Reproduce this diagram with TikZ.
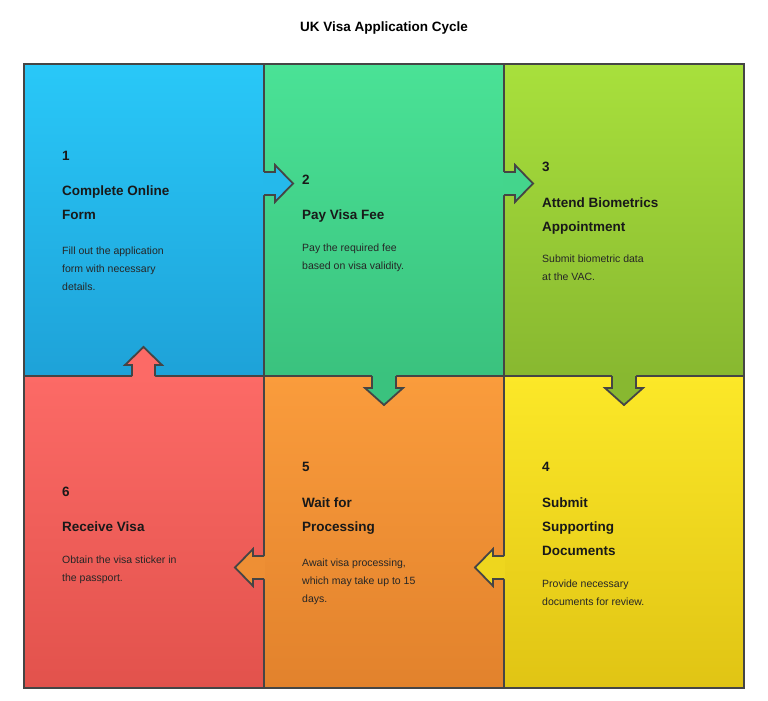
\documentclass[tikz,border=0pt]{standalone}
\usepackage{fontspec}
\setmainfont{Liberation Sans}
\definecolor{ca1}{HTML}{29C8F8}\definecolor{ca2}{HTML}{1EA2D8}
\definecolor{cb1}{HTML}{4AE296}\definecolor{cb2}{HTML}{3AC27E}
\definecolor{cc1}{HTML}{A8E03C}\definecolor{cc2}{HTML}{88B830}
\definecolor{cd1}{HTML}{FC6A66}\definecolor{cd2}{HTML}{E2524C}
\definecolor{ce1}{HTML}{FA9C3C}\definecolor{ce2}{HTML}{E2822C}
\definecolor{cf1}{HTML}{FCE828}\definecolor{cf2}{HTML}{E0C414}
\definecolor{edge}{HTML}{454545}
\tikzset{
 cell/.style={draw=edge,line width=1.8pt},
 arr/.style={draw=edge,line width=1.8pt,line join=miter},
 num/.style={anchor=base west,font=\bfseries\fontsize{13.5}{16}\selectfont,text=black!90,inner sep=0},
 ttl/.style={anchor=base west,font=\bfseries\fontsize{13.5}{16}\selectfont,text=black!90,inner sep=0},
 dsc/.style={anchor=base west,font=\fontsize{10.5}{13}\selectfont,text=black!85,inner sep=0}
}
\begin{document}
\begin{tikzpicture}[x=1pt,y=-1pt]
\useasboundingbox (0,0) rectangle (768,701);
\node[font=\bfseries\fontsize{13.5}{16}\selectfont] (title) at (384,28) {UK Visa Application Cycle};
% cells
\shade[top color=ca1,bottom color=ca2] (24,64) rectangle (264,376);
\shade[top color=cb1,bottom color=cb2] (264,64) rectangle (504,376);
\shade[top color=cc1,bottom color=cc2] (504,64) rectangle (744,376);
\shade[top color=cd1,bottom color=cd2] (24,376) rectangle (264,688);
\shade[top color=ce1,bottom color=ce2] (264,376) rectangle (504,688);
\shade[top color=cf1,bottom color=cf2] (504,376) rectangle (744,688);
\draw[cell] (24,64) rectangle (744,688);
\draw[cell] (264,64) -- (264,688);
\draw[cell] (504,64) -- (504,688);
\draw[cell] (24,376) -- (744,376);
% arrows: right 1->2
\fill[color=ca1!60!ca2] (263,172) -- (275,172) -- (275,165) -- (293,183.5) -- (275,202) -- (275,195) -- (263,195) -- cycle;
\draw[arr] (264,172) -- (275,172) -- (275,165) -- (293,183.5) -- (275,202) -- (275,195) -- (264,195);
% right 2->3
\fill[color=cb1!60!cb2] (503,172) -- (515,172) -- (515,165) -- (533,183.5) -- (515,202) -- (515,195) -- (503,195) -- cycle;
\draw[arr] (504,172) -- (515,172) -- (515,165) -- (533,183.5) -- (515,202) -- (515,195) -- (504,195);
% down 3->4
\fill[color=cc2] (612,375) -- (612,388) -- (605,388) -- (624,405) -- (643,388) -- (636,388) -- (636,375) -- cycle;
\draw[arr] (612,376) -- (612,388) -- (605,388) -- (624,405) -- (643,388) -- (636,388) -- (636,376);
% down 2->5
\fill[color=cb2] (372,375) -- (372,388) -- (365,388) -- (384,405) -- (403,388) -- (396,388) -- (396,375) -- cycle;
\draw[arr] (372,376) -- (372,388) -- (365,388) -- (384,405) -- (403,388) -- (396,388) -- (396,376);
% left 4->5
\fill[color=cf1!50!cf2] (505,556) -- (493,556) -- (493,549) -- (475,567.5) -- (493,586) -- (493,579) -- (505,579) -- cycle;
\draw[arr] (504,556) -- (493,556) -- (493,549) -- (475,567.5) -- (493,586) -- (493,579) -- (504,579);
% left 5->6
\fill[color=ce1!50!ce2] (265,556) -- (253,556) -- (253,549) -- (235,567.5) -- (253,586) -- (253,579) -- (265,579) -- cycle;
\draw[arr] (264,556) -- (253,556) -- (253,549) -- (235,567.5) -- (253,586) -- (253,579) -- (264,579);
% up 6->1
\fill[color=cd1] (132,377) -- (132,365) -- (125,365) -- (143.5,347) -- (162,365) -- (155,365) -- (155,377) -- cycle;
\draw[arr] (132,376) -- (132,365) -- (125,365) -- (143.5,347) -- (162,365) -- (155,365) -- (155,376);
% texts cell 1
\node[num] (n1) at (62,160) {1};
\node[ttl] (t1a) at (62,195) {Complete Online};
\node[ttl] (t1b) at (62,219) {Form};
\node[dsc] (d1a) at (62,254) {Fill out the application};
\node[dsc] (d1b) at (62,272) {form with necessary};
\node[dsc] (d1c) at (62,290) {details.};
% cell 2
\node[num] (n2) at (302,184) {2};
\node[ttl] (t2a) at (302,219) {Pay Visa Fee};
\node[dsc] (d2a) at (302,251) {Pay the required fee};
\node[dsc] (d2b) at (302,269) {based on visa validity.};
% cell 3
\node[num] (n3) at (542,171) {3};
\node[ttl] (t3a) at (542,207) {Attend Biometrics};
\node[ttl] (t3b) at (542,231) {Appointment};
\node[dsc] (d3a) at (542,262) {Submit biometric data};
\node[dsc] (d3b) at (542,280) {at the VAC.};
% cell 6
\node[num] (n6) at (62,496) {6};
\node[ttl] (t6a) at (62,531) {Receive Visa};
\node[dsc] (d6a) at (62,563) {Obtain the visa sticker in};
\node[dsc] (d6b) at (62,581) {the passport.};
% cell 5
\node[num] (n5) at (302,471) {5};
\node[ttl] (t5a) at (302,507) {Wait for};
\node[ttl] (t5b) at (302,531) {Processing};
\node[dsc] (d5a) at (302,566) {Await visa processing,};
\node[dsc] (d5b) at (302,584) {which may take up to 15};
\node[dsc] (d5c) at (302,602) {days.};
% cell 4
\node[num] (n4) at (542,471) {4};
\node[ttl] (t4a) at (542,507) {Submit};
\node[ttl] (t4b) at (542,531) {Supporting};
\node[ttl] (t4c) at (542,555) {Documents};
\node[dsc] (d4a) at (542,587) {Provide necessary};
\node[dsc] (d4b) at (542,605) {documents for review.};
\end{tikzpicture}
\end{document}
